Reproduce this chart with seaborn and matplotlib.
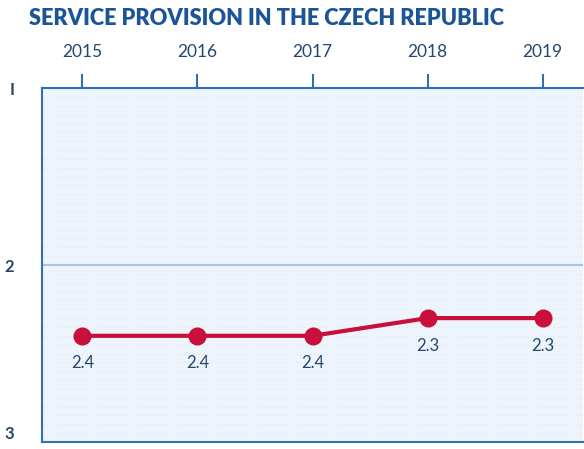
import matplotlib
matplotlib.use("Agg")
import matplotlib.pyplot as plt
import seaborn as sns
import pandas as pd
import numpy as np

# Data
years = [2015, 2016, 2017, 2018, 2019]
scores = [2.4, 2.4, 2.4, 2.3, 2.3]
score_labels = ["2.4", "2.4", "2.4", "2.3", "2.3"]
y_ticks = [1, 2, 3]
y_tick_labels = ["I", "2", "3"]

TITLE_BLUE = "#1b5597"
AXIS_BLUE = "#2f6fb3"
TEXT_BLUE = "#24476e"
LINE_RED = "#c8103a"

sns.set_style("white")
plt.rcParams['font.family'] = ['Lato', 'DejaVu Sans']

df = pd.DataFrame({'year': years, 'score': scores})

fig = plt.figure(figsize=(5.84, 4.49), dpi=100)
ax = fig.add_axes([42 / 584, 7 / 449, 541 / 584, 354 / 449])
ax.set_facecolor("#eef4fb")

# faint dotted texture of the background
for yy in np.arange(1.05, 3.0, 0.05):
    ax.axhline(yy, color="#dbe5f0", lw=0.8, ls=(0, (1, 3)), zorder=0.5)

ax.axhline(2, color="#a8c5e2", lw=1.5, zorder=1)

sns.lineplot(data=df, x='year', y='score', ax=ax, color=LINE_RED, lw=3,
             marker='o', markersize=13, markeredgewidth=0, zorder=3)

for x, y, lab in zip(years, scores, score_labels):
    ax.annotate(lab, (x, y), xytext=(0, -14), textcoords='offset points',
                ha='center', va='top', fontsize=12, color=TEXT_BLUE)

ax.set_xlim(2014.65, 2019.35)
ax.set_ylim(3, 1)
ax.set_xticks(years)
ax.set_xticklabels([str(y) for y in years])
ax.set_yticks(y_ticks)
ax.set_yticklabels(y_tick_labels)
ax.xaxis.tick_top()
ax.tick_params(axis='x', direction='out', length=10, width=1.5, color=AXIS_BLUE,
               labelsize=12.5, labelcolor=TEXT_BLUE, pad=10)
ax.tick_params(axis='y', direction='out', length=12, width=1.5, color=AXIS_BLUE,
               labelsize=12, labelcolor=TEXT_BLUE, pad=8)
for lab in ax.get_yticklabels():
    lab.set_fontweight('bold')
ax.get_yticklabels()[-1].set_va('bottom')
ax.set_xlabel('')
ax.set_ylabel('')

for side in ['left', 'top', 'bottom']:
    ax.spines[side].set_color(AXIS_BLUE)
    ax.spines[side].set_linewidth(1.5)
ax.spines['right'].set_visible(False)

fig.text(0.457, 0.958, "SERVICE PROVISION IN THE CZECH REPUBLIC", ha='center', va='center',
         fontsize=15.7, fontweight='heavy', color=TITLE_BLUE)

fig.savefig("out.png", dpi=100)
